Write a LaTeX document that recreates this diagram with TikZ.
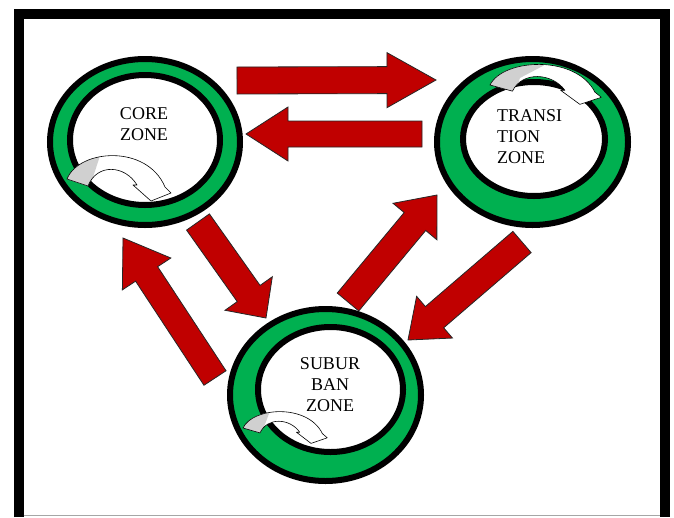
\documentclass[tikz,border=0pt]{standalone}
\usepackage{fontspec}
\setmainfont{Liberation Serif}
\usetikzlibrary{calc}
\definecolor{ringgreen}{HTML}{00B050}
\definecolor{arrowred}{HTML}{C00000}
\definecolor{swirlgray}{HTML}{D0D0D0}
\tikzset{
  redarr/.style={fill=arrowred, draw=black!85, line width=0.8pt, line join=miter},
  ringouter/.style={fill=ringgreen, draw=black, line width=6pt},
  ringinner/.style={fill=white, draw=black, line width=6pt},
  zonelabel/.style={font=\fontsize{18}{21}\selectfont, inner sep=0pt, text=black},
  swirlline/.style={draw=black, line width=0.6pt, line join=round},
}
\newcommand{\blockarrow}[5]{%
  \coordinate (hb) at ($(#2)!#5pt!(#1)$);
  \draw[redarr] ($(#1)!#3pt!90:(#2)$) -- ($(hb)!#3pt!90:(#2)$) -- ($(hb)!#4pt!90:(#2)$) -- (#2)
     -- ($(hb)!#4pt!-90:(#2)$) -- ($(hb)!#3pt!-90:(#2)$) -- ($(#1)!#3pt!-90:(#2)$) -- cycle;
}
\newcommand{\swirlshape}[1]{%
  \path[#1] (0,0) .. controls (12,-30) and (80,-35) .. (98,8) -- (104,14) -- (84,22) -- (66,6) -- (70,6)
     .. controls (58,-14) and (30,-16) .. (21,7) -- cycle;
}
\newcommand{\swirl}[4]{%
  \begin{scope}[shift={#1}, xscale=#2, yscale=#3]
    \swirlshape{fill=white}
    \begin{scope}
      \clip #4;
      \swirlshape{fill=swirlgray}
    \end{scope}
    \swirlshape{swirlline}
  \end{scope}
}
\begin{document}
\begin{tikzpicture}[x=1pt, y=-1pt]
  \useasboundingbox (0,0) rectangle (674,517);
  \fill[white] (0,0) rectangle (674,517);
  % frame
  \draw[line width=10pt, line join=miter] (18.5,517) -- (18.5,13.5) -- (664.5,13.5) -- (664.5,517);
  \draw[black!35, line width=1pt] (23.5,515) -- (659.5,515);

  % rings
  \coordinate (corec) at (145,142);
  \coordinate (transc) at (532.5,142);
  \coordinate (subc) at (325.5,395);
  \draw[ringouter] (corec) ellipse [x radius=95pt, y radius=83pt];
  \draw[ringinner] (145,140) ellipse [x radius=75pt, y radius=65pt];
  \draw[ringouter] (transc) ellipse [x radius=95.5pt, y radius=83pt];
  \draw[ringinner] (534,139) ellipse [x radius=71pt, y radius=57pt];
  \draw[ringouter] (subc) ellipse [x radius=95.5pt, y radius=86pt];
  \draw[ringinner] (330.5,389.5) ellipse [x radius=72.5pt, y radius=62.5pt];

  % curved arrows
  \swirl{(67,179)}{1}{1}{(-10,-45) -- (40,-45) -- (20.6,15) -- (-10,15) -- cycle}
  \swirl{(490,85)}{1.07}{0.88}{(-10,-45) -- (62,-45) -- (50,-22) -- (28,-8) -- (22,15) -- (-10,15) -- cycle}
  \swirl{(243,428)}{0.81}{0.7}{(-10,-45) -- (40,-45) -- (20.6,15) -- (-10,15) -- cycle}

  % labels
  \node[zonelabel, align=center] (core) at (144,124) {CORE\\ZONE};
  \node[zonelabel, align=left, anchor=west] (trans) at (497,137) {TRANSI\\TION\\ZONE};
  \node[zonelabel, align=center] (sub) at (330,385) {SUBUR\\BAN\\ZONE};

  % red block arrows
  \coordinate (a1t) at (237,80.5);  \coordinate (a1h) at (436,80);
  \coordinate (a2t) at (422,134);   \coordinate (a2h) at (246,134);
  \coordinate (a3t) at (198,222);   \coordinate (a3h) at (266,318);
  \coordinate (a4t) at (215,378);   \coordinate (a4h) at (123,238);
  \coordinate (a5t) at (348,302);   \coordinate (a5h) at (437,195);
  \coordinate (a6t) at (522,242);   \coordinate (a6h) at (408,340);
  \blockarrow{a1t}{a1h}{13.5}{27.5}{49}
  \blockarrow{a2t}{a2h}{13}{27}{42}
  \blockarrow{a3t}{a3h}{14}{29}{30}
  \blockarrow{a4t}{a4h}{13.2}{29}{43}
  \blockarrow{a5t}{a5h}{14}{28.5}{34.5}
  \blockarrow{a6t}{a6h}{14}{27.5}{35}
\end{tikzpicture}
\end{document}
